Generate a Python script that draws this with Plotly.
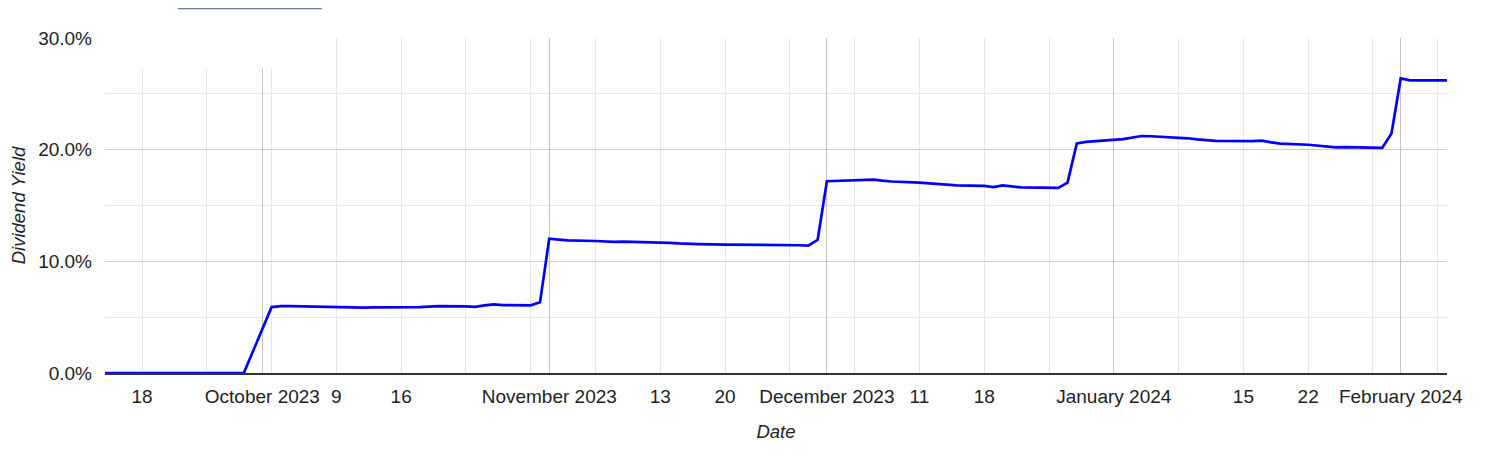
import plotly.graph_objects as go, pandas as pd

# trading days Sep 14 2023 - Feb 6 2024 (NYSE holidays removed)
holidays = ['2023-11-23', '2023-12-25', '2024-01-01', '2024-01-15']
dates = pd.bdate_range('2023-09-14', '2024-02-06').drop(pd.to_datetime(holidays))

sep_yield = [0.0] * 12
oct_yield = [5.90, 5.98, 5.98, 5.96, 5.94, 5.90, 5.88, 5.84, 5.86, 5.88, 5.86,
             5.86, 5.90, 5.95, 5.98, 5.96, 5.92, 6.05, 6.15, 6.08, 6.06, 6.33]
nov_yield = [12.03, 11.95, 11.88, 11.82, 11.76, 11.74, 11.76, 11.74, 11.72, 11.66, 11.60,
             11.56, 11.54, 11.50, 11.50, 11.47, 11.46, 11.45, 11.44, 11.40, 11.93]
dec_yield = [17.17, 17.30, 17.32, 17.32, 17.22, 17.15, 17.05, 17.00, 16.93, 16.84,
             16.80, 16.75, 16.65, 16.80, 16.70, 16.62, 16.58, 17.05, 20.55, 20.70]
jan_yield = [20.94, 21.08, 21.22, 21.20, 21.10, 21.02, 20.92, 20.82, 20.78, 20.76, 20.80,
             20.66, 20.54, 20.44, 20.38, 20.30, 20.20, 20.22, 20.14, 20.16, 21.45]
feb_yield = [26.38, 26.20, 26.20, 26.20]
div_yield = sep_yield + oct_yield + nov_yield + dec_yield + jan_yield + feb_yield

label_dates = ['2023-09-18', '2023-10-01', '2023-10-09', '2023-10-16', '2023-11-01',
               '2023-11-13', '2023-11-20', '2023-12-01', '2023-12-11', '2023-12-18',
               '2024-01-01', '2024-01-15', '2024-01-22', '2024-02-01']
label_text = ['18', 'October 2023', '9', '16', 'November 2023', '13', '20',
              'December 2023', '11', '18', 'January 2024', '15', '22', 'February 2024']
month_starts = ['2023-10-01', '2023-11-01', '2023-12-01', '2024-01-01', '2024-02-01']
mondays = pd.date_range('2023-09-18', '2024-02-05', freq='7D')
y_ticks = [0, 10, 20, 30]

FONT = 'Liberation Sans, Arial, sans-serif'

fig = go.Figure()
fig.add_trace(go.Scatter(x=dates, y=div_yield, mode='lines', name='Dividend Yield',
                         line=dict(color='#0000ff', width=2.7)))
# invisible trace on second axis so month gridlines render
fig.add_trace(go.Scatter(x=[dates[0], dates[-1]], y=[0, 0], xaxis='x2', mode='lines',
                         line=dict(width=0), hoverinfo='skip', showlegend=False))

xrange = [dates[0], dates[-1]]
# page body adds an 8px offset, so margins are shifted to compensate
fig.update_layout(
    width=1506, height=460,
    margin=dict(l=97, r=67, t=30, b=95, autoexpand=False),
    paper_bgcolor='white', plot_bgcolor='white',
    showlegend=False,
    font=dict(family=FONT, size=19, color='#222222'),
    xaxis=dict(
        range=xrange, tickmode='array', tickvals=label_dates, ticktext=label_text,
        showgrid=False, ticks='', tickangle=0, ticklabelstandoff=5, automargin=False,
        showline=True, linecolor='#333333', linewidth=1.5,
        minor=dict(tickmode='array', tickvals=mondays, showgrid=True,
                   gridcolor='#e6e6e6', gridwidth=1, ticks=''),
        title=dict(text='Date', font=dict(size=18.5, style='italic'), standoff=20),
        layer='below traces',
    ),
    xaxis2=dict(
        range=xrange, overlaying='x', tickmode='array', tickvals=month_starts,
        showgrid=True, gridcolor='#c4c4c4', gridwidth=1.3, automargin=False,
        showticklabels=False, ticks='', zeroline=False, layer='below traces',
    ),
    yaxis=dict(
        range=[0, 30], tickmode='array', tickvals=y_ticks,
        ticktext=[f'{v:.1f}%' for v in y_ticks],
        showgrid=True, gridcolor='#cccccc', gridwidth=1, zeroline=False,
        ticks='', ticklabelstandoff=12, automargin=False,
        minor=dict(tickmode='array', tickvals=[5, 15, 25], showgrid=True,
                   gridcolor='#e8e8e8', gridwidth=1),
        title=dict(text='Dividend Yield', font=dict(size=18.5, style='italic'), standoff=9),
    ),
)

# blank patch in the top-left corner and the thin bar above the chart
fig.add_shape(type='rect', xref='paper', yref='paper', x0=-0.004, x1=0.128,
              y0=0.91, y1=1.01, fillcolor='white', line=dict(width=0), layer='above')
fig.add_shape(type='rect', xref='paper', yref='paper', x0=0.0544, x1=0.1617,
              y0=1.0855, y1=1.0895, fillcolor='#6a7ba6', line=dict(width=0), layer='above')

fig.write_html("out.html")
